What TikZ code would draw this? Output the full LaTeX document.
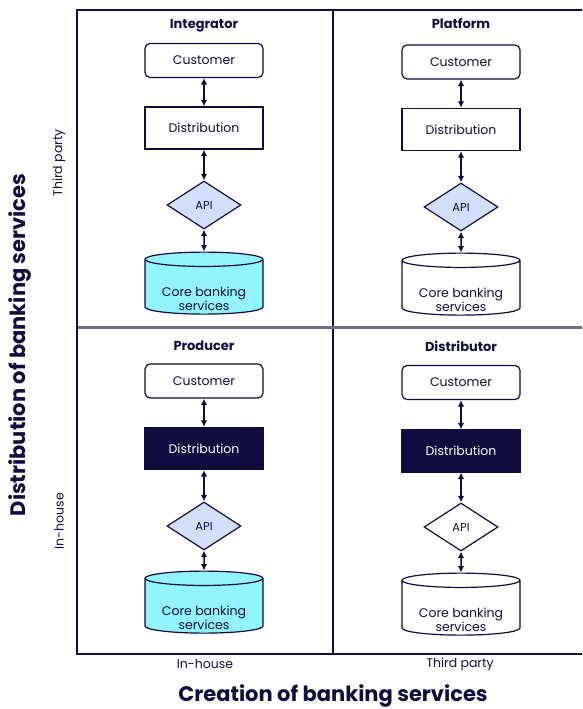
\documentclass[tikz,border=0pt]{standalone}
\usepackage{fontspec}
\setmainfont{Poppins}
\usetikzlibrary{shapes.geometric,arrows.meta}
\definecolor{navy}{HTML}{100C3E}
\definecolor{cyanfill}{HTML}{91F4FF}
\definecolor{apifill}{HTML}{D3DEFA}
\newcommand{\coretext}{\raisebox{-16.5pt}[0pt][0pt]{\begin{tabular}{@{}c@{}}Core banking\\services\end{tabular}}}

\begin{document}
\begin{tikzpicture}[x=1pt,y=-1pt,
  every node/.style={text=navy,font=\fontsize{12.5}{14}\selectfont},
  custbox/.style={draw=navy,line width=1.2pt,rounded corners=5pt,fill=white,minimum width=118pt,minimum height=34pt},
  distbox/.style={draw=navy,line width=1.2pt,fill=white,minimum width=118pt,minimum height=42pt},
  distdark/.style={distbox,fill=navy,text=white},
  apibox/.style={diamond,draw=navy,line width=1.2pt,fill=apifill,minimum width=74pt,minimum height=48pt,inner sep=0pt,font=\fontsize{11.5}{13}\selectfont},
  apiwhite/.style={apibox,fill=white},
  corebox/.style={cylinder,shape border rotate=90,aspect=0.17,draw=navy,line width=1.2pt,fill=cyanfill,minimum width=118pt,minimum height=62pt,inner sep=0pt,font=\fontsize{12.5}{14}\selectfont},
  corewhite/.style={corebox,fill=white},
  title/.style={font=\fontsize{13}{15}\selectfont\bfseries},
  axis/.style={font=\fontsize{12.5}{14}\selectfont},
  bigtitle/.style={font=\fontsize{21}{24}\selectfont\bfseries},
  link/.style={{Latex[length=6.5pt,width=6.5pt]}-{Latex[length=6.5pt,width=6.5pt]},draw=navy,line width=1.5pt}]
\useasboundingbox (0,0) rectangle (582,709);

% frame
\draw[navy,line width=2pt] (582,10) -- (77,10) -- (77,654) -- (582,654);
\draw[navy,line width=2pt] (333,10) -- (333,654);
\draw[navy!60,line width=3pt] (78,327) -- (582,327);

% Integrator
\node[title] (t1) at (204,26) {Integrator};
\node[custbox] (cust1) at (204,60.5) {Customer};
\node[distbox] (dist1) at (204,128) {Distribution};
\node[apibox] (api1) at (204,205) {API};
\node[corebox] (core1) at (204,287) {\coretext};
\draw[link] (cust1) -- (dist1);
\draw[link] (dist1) -- (api1);
\draw[link] (api1) -- (core1);

% Platform
\node[title] (t2) at (461,23) {Platform};
\node[custbox] (cust2) at (461,62) {Customer};
\node[distbox] (dist2) at (461,129.5) {Distribution};
\node[apibox] (api2) at (461,207) {API};
\node[corewhite] (core2) at (461,288) {\coretext};
\draw[link] (cust2) -- (dist2);
\draw[link] (dist2) -- (api2);
\draw[link] (api2) -- (core2);

% Producer
\node[title] (t3) at (204,346) {Producer};
\node[custbox] (cust3) at (204,381) {Customer};
\node[distdark] (dist3) at (204,448.5) {Distribution};
\node[apibox] (api3) at (204,526) {API};
\node[corebox] (core3) at (204,606) {\coretext};
\draw[link] (cust3) -- (dist3);
\draw[link] (dist3) -- (api3);
\draw[link] (api3) -- (core3);

% Distributor
\node[title] (t4) at (461,346) {Distributor};
\node[custbox] (cust4) at (461,382.5) {Customer};
\node[distdark] (dist4) at (461,451) {Distribution};
\node[apiwhite] (api4) at (461,527) {API};
\node[corewhite] (core4) at (461,608) {\coretext};
\draw[link] (cust4) -- (dist4);
\draw[link] (dist4) -- (api4);
\draw[link] (api4) -- (core4);

% axes
\node[axis,rotate=90] (ythird) at (59,163) {Third party};
\node[axis,rotate=90] (yin) at (59,521) {In-house};
\node[bigtitle,rotate=90] (ytitle) at (20,345) {Distribution of banking services};
\node[axis] (xin) at (205,664) {In-house};
\node[axis] (xthird) at (460,664) {Third party};
\node[bigtitle] (xtitle) at (333,696) {Creation of banking services};
\end{tikzpicture}
\end{document}
